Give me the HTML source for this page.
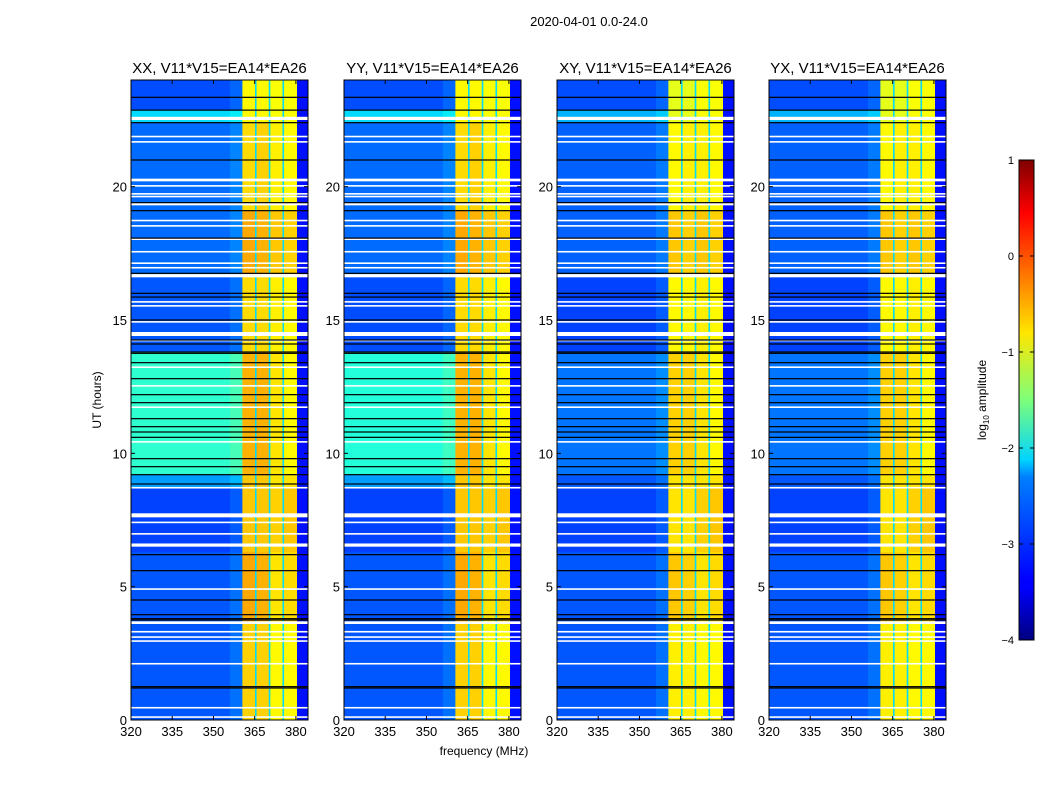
<!DOCTYPE html>
<html><head><meta charset="utf-8"><style>
html,body{margin:0;padding:0;background:#fff;}
svg{display:block;font-family:"Liberation Sans",sans-serif;}
</style></head><body>
<svg id="fig" width="1050" height="800" viewBox="0 0 1050 800">
<text x="589" y="26" font-size="13" text-anchor="middle">2020-04-01 0.0-24.0</text>
<text x="484" y="755" font-size="12" text-anchor="middle">frequency (MHz)</text>
<text transform="translate(101,400) rotate(-90)" font-size="12" text-anchor="middle">UT (hours)</text>
<defs><linearGradient id="jet" x1="0" y1="1" x2="0" y2="0">
<stop offset="0" stop-color="#00007f"/><stop offset="0.11" stop-color="#0000ff"/><stop offset="0.125" stop-color="#0000ff"/><stop offset="0.34" stop-color="#0080ff"/><stop offset="0.375" stop-color="#00d4ff"/><stop offset="0.5" stop-color="#7dff7a"/><stop offset="0.64" stop-color="#ffe600"/><stop offset="0.75" stop-color="#ff8000"/><stop offset="0.89" stop-color="#ff0000"/><stop offset="1" stop-color="#7f0000"/></linearGradient></defs>
<g id="panels"></g>
<g id="cbar"></g>
</svg>
<script>
const ns="http://www.w3.org/2000/svg";
const panelTitles=["XX, V11*V15=EA14*EA26","YY, V11*V15=EA14*EA26","XY, V11*V15=EA14*EA26","YX, V11*V15=EA14*EA26"];
const xTicks=[320,335,350,365,380];
const yTicks=[0,5,10,15,20];
const cbTicks=[-4,-3,-2,-1,0,1];
const bandEdges=[320,360.5,365.4,370.4,375.4,380.4,384.4];
const segStart=[0,3.7,6.3,8.75,9.2,13.8,16.7,19.1,22.4,22.9];
const segEnd=[3.7,6.3,8.75,9.2,13.8,16.7,19.1,22.4,22.9,24];
const bgXX=[-2.95,-2.95,-3.05,-2.6,-1.9,-2.95,-2.85,-2.85,-2.3,-3.0];
const bgYY=[-2.95,-2.95,-3.05,-2.6,-1.95,-3.0,-2.85,-2.85,-2.3,-3.0];
const bgXY=[-2.95,-2.95,-3.05,-2.95,-2.8,-3.05,-2.9,-2.9,-2.5,-3.0];
const bgYX=[-2.95,-2.95,-3.05,-2.95,-2.8,-3.05,-2.9,-2.9,-2.5,-3.0];
const sb1=[-0.65,-0.45,-0.6,-0.6,-0.5,-0.7,-0.45,-0.7,-0.85,-0.85];
const sb2=[-0.65,-0.5,-0.6,-0.6,-0.5,-0.7,-0.5,-0.65,-0.85,-0.85];
const sb3=[-0.85,-0.75,-0.65,-0.75,-0.75,-0.8,-0.6,-0.8,-0.9,-0.9];
const sb4=[-0.85,-0.7,-0.6,-0.75,-0.85,-0.85,-0.65,-0.85,-0.9,-0.9];
const rightBg=-3.3;
const crossPol=[0,0,0.15,0.15];
const whiteStart=[0.08,0.43,2.08,2.93,3.08,3.28,3.6,4.88,6.5,6.95,7.38,7.6,8.68,10.4,11.7,12.5,13.2,14.2,14.4,14.9,15.5,15.65,16.6,16.93,17.1,17.53,18.0,18.5,18.7,19.3,19.6,19.7,20.0,20.2,21.65,21.85,22.5];
const whiteEnd=[0.14,0.49,2.14,2.99,3.14,3.34,3.7,4.94,6.62,7.01,7.44,7.75,8.74,10.46,11.76,12.56,13.26,14.26,14.55,14.96,15.56,15.71,16.72,16.99,17.16,17.59,18.06,18.56,18.76,19.4,19.66,19.76,20.06,20.3,21.71,21.91,22.62];
const blackRows=[1.2,1.25,3.75,3.8,3.95,4.5,5.6,6.2,8.85,9.2,9.5,9.8,10.6,10.8,11.0,11.3,11.9,12.2,12.8,13.4,13.75,13.8,14.1,14.25,15.0,15.86,16.0,16.75,18.07,19.1,19.4,21.0,22.4,22.87,23.35];
const P0=[131,344,557,769], W=177, Y0=80, H=640;
const fx=f=>(f-320)*W/64.4, fy=h=>Y0+H-h*H/24;
function jet(v){let t=Math.max(0,Math.min(1,(v+4)/5));const c=x=>Math.round(255*Math.max(0,Math.min(1,1.5-Math.abs(4*t-x))));return `rgb(${c(3)},${c(2)},${c(1)})`;}
function el(tag,a,p){const e=document.createElementNS(ns,tag);for(const k in a)e.setAttribute(k,a[k]);p.appendChild(e);return e;}
const G=document.getElementById('panels');
const bgs=[bgXX,bgYY,bgXY,bgYX];
for(let p=0;p<4;p++){
 const g=el('g',{transform:`translate(${P0[p]},0)`},G);
 
 
 for(let s=0;s<segStart.length;s++){
  const y1=fy(segEnd[s]),y2=fy(segStart[s]);
  const vals=[bgs[p][s],sb1[s]-crossPol[p],sb2[s]-crossPol[p],sb3[s],sb4[s],rightBg];
  for(let b=0;b<6;b++){
   const r=el('rect',{x:fx(bandEdges[b]),y:y1,width:fx(bandEdges[b+1])-fx(bandEdges[b])+0.3,height:y2-y1+0.3,fill:jet(vals[b])},g);
   
   
  }
  const r2=el('rect',{x:fx(356),y:y1,width:fx(360.5)-fx(356),height:y2-y1,fill:jet(bgs[p][s]+0.25),opacity:0.5},g);
  
  
 }
 for(let b=2;b<5;b++){
  const r=el('rect',{x:fx(bandEdges[b])-0.8,y:Y0,width:1.6,height:H,fill:jet(-2.3)},g);
  
  
 }
 for(let i=0;i<whiteStart.length;i++){
  const y1=fy(whiteEnd[i]),y2=fy(whiteStart[i]);
  const r=el('rect',{x:0,y:y1,width:W,height:Math.max(1.5,y2-y1),fill:'#fff'},g);
  
  
 }
 for(const h of blackRows){
  const r=el('rect',{x:0,y:fy(h)-0.6,width:W,height:1.2,fill:'#000'},g);
  
  
 }
 const fr=el('rect',{x:0,y:Y0,width:W,height:H,fill:'none',stroke:'#000','stroke-width':1},g);
 
 
 const t=el('text',{x:W/2,y:73,'font-size':15,'text-anchor':'middle'},g);t.textContent=panelTitles[p];
 
 
 for(const v of xTicks){
  const x=fx(v);
  el('line',{x1:x,x2:x,y1:Y0+H,y2:Y0+H-4,stroke:'#000'},g);
  el('line',{x1:x,x2:x,y1:Y0,y2:Y0+4,stroke:'#000'},g);
  const tx=el('text',{x:x,y:Y0+H+16,'font-size':13,'text-anchor':'middle'},g);tx.textContent=v;
  
  
 }
 for(const v of yTicks){
  const y=fy(v);
  el('line',{x1:0,x2:4,y1:y,y2:y,stroke:'#000'},g);
  el('line',{x1:W,x2:W-4,y1:y,y2:y,stroke:'#000'},g);
  const ty=el('text',{x:-4,y:y+5,'font-size':13,'text-anchor':'end'},g);ty.textContent=v;
  
  
 }
}
const C=document.getElementById('cbar');
const cb=el('rect',{x:1019,y:160,width:15,height:480,fill:'url(#jet)',stroke:'#000'},C);


for(const v of cbTicks){
 const y=640-(v+4)*96;
 el('line',{x1:1019,x2:1023,y1:y,y2:y,stroke:'#000'},C);
 el('line',{x1:1034,x2:1030,y1:y,y2:y,stroke:'#000'},C);
 const t=el('text',{x:1014,y:y+4,'font-size':11,'text-anchor':'end'},C);t.textContent=(v<0?'\u2212'+(-v):v);
 
 
}
const cl=el('text',{transform:'translate(986,400) rotate(-90)','font-size':12,'text-anchor':'middle'},C);
cl.innerHTML='log<tspan font-size="8" dy="3">10</tspan><tspan dy="-3"> amplitude</tspan>';


</script>
</body></html>
